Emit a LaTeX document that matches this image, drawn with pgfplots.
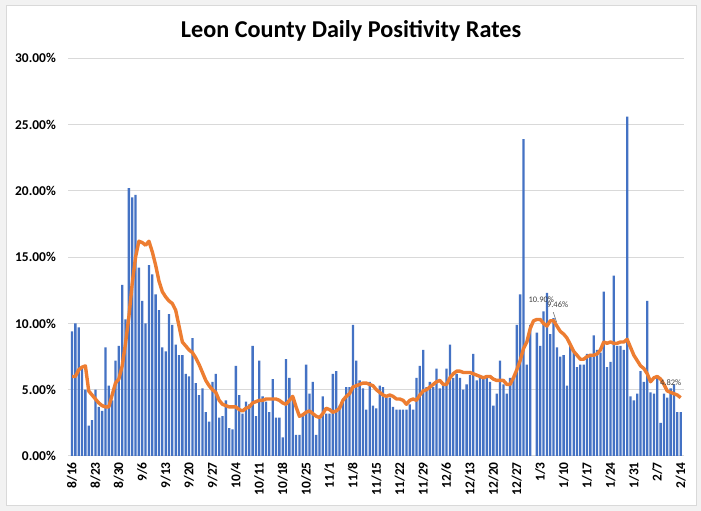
\documentclass[border=0pt]{standalone}
\usepackage{fontspec}
\setmainfont{Carlito}
\usepackage{pgfplots}
\pgfplotsset{compat=1.18}
\definecolor{barblue}{HTML}{4472C4}
\definecolor{lineorange}{HTML}{ED7D31}
\definecolor{gridgray}{HTML}{D9D9D9}
\definecolor{labgray}{HTML}{404040}
\definecolor{bggray}{HTML}{F2F2F2}
\begin{document}
\begin{tikzpicture}[x=1bp,y=1bp]
\fill[bggray] (0,0) rectangle (701,511);
\filldraw[fill=white, draw=gridgray, line width=1bp] (6,5) rectangle (696,505);
\node[font=\fontsize{24.3}{28}\selectfont\bfseries, anchor=base] at (351,473) {Leon County Daily Positivity Rates};
\begin{axis}[
  at={(68bp,55bp)}, anchor=south west,
  scale only axis, width=616bp, height=397.7bp,
  xmin=-1.2, xmax=183, ymin=0, ymax=30,
  axis line style={draw=none},
  ytick={0,5,...,30},
  ymajorgrids, grid style={gridgray, line width=1bp},
  major tick length=0pt,
  xtick={0,7,...,182},
  xticklabels={8/16,8/23,8/30,9/6,9/13,9/20,9/27,10/4,10/11,10/18,10/25,11/1,11/8,11/15,11/22,11/29,12/6,12/13,12/20,12/27,1/3,1/10,1/17,1/24,1/31,2/7,2/14},
  tick label style={font=\fontsize{13.5}{16}\selectfont\bfseries, inner sep=0pt},
  xticklabel style={rotate=90, anchor=east},
  xticklabel shift=6bp,
  yticklabel shift=12bp,
  yticklabel={\pgfmathprintnumber[fixed,fixed zerofill,precision=2]{\tick}\%},
  /pgf/number format/assume math mode=true,
]
\addplot[ybar, bar shift=0pt, bar width=2.3bp, fill=barblue, draw=none] coordinates {
(0,9.4)(1,10.0)(2,9.7)(3,6.6)(4,5.0)(5,2.3)(6,2.7)(7,5.0)(8,3.7)(9,3.4)
(10,8.2)(11,5.3)(12,4.2)(13,7.2)(14,8.3)(15,12.9)(16,10.3)(17,20.2)(18,19.5)(19,19.7)
(20,14.2)(21,11.7)(22,10.0)(23,14.4)(24,13.7)(25,12.2)(26,11.0)(27,8.2)(28,7.9)(29,10.7)
(30,9.9)(31,8.4)(32,7.6)(33,7.6)(34,6.2)(35,6.0)(36,8.9)(37,5.5)(38,4.6)(39,5.1)
(40,3.3)(41,2.6)(42,5.6)(43,6.2)(44,2.9)(45,3.0)(46,4.2)(47,2.1)(48,2.0)(49,6.8)
(50,4.6)(51,3.2)(52,4.1)(53,3.9)(54,8.3)(55,3.0)(56,7.2)(57,4.5)(58,4.1)(59,3.3)
(60,5.8)(61,2.9)(62,2.9)(63,1.4)(64,7.3)(65,5.9)(66,4.3)(67,1.6)(68,1.6)(69,3.0)
(70,6.9)(71,4.7)(72,5.6)(73,1.6)(74,2.8)(75,4.5)(76,3.2)(77,3.2)(78,6.2)(79,6.4)
(80,3.8)(81,4.2)(82,5.2)(83,5.2)(84,9.9)(85,7.2)(86,5.7)(87,5.1)(88,3.5)(89,5.6)
(90,3.8)(91,3.6)(92,5.3)(93,5.2)(94,4.4)(95,4.4)(96,3.7)(97,3.5)(98,3.5)(99,3.5)
(100,3.5)(101,3.9)(102,3.5)(103,5.9)(104,6.8)(105,8.0)(106,5.2)(107,5.6)(108,5.2)(109,6.6)
(110,5.1)(111,5.3)(112,6.6)(113,8.4)(114,5.9)(115,6.2)(116,5.9)(117,5.0)(118,5.4)(119,6.1)
(120,7.7)(121,5.7)(122,5.9)(123,5.8)(124,5.9)(125,5.6)(126,3.8)(127,4.7)(128,7.2)(129,5.4)
(130,4.7)(131,5.9)(132,5.9)(133,9.9)(134,12.2)(135,23.9)(136,6.9)(137,9.9)(139,9.3)
(140,8.3)(141,10.9)(142,12.3)(143,9.2)(144,10.4)(145,8.2)(146,7.5)(147,7.6)(148,5.3)(149,8.3)
(150,7.8)(151,6.7)(152,6.9)(153,6.9)(154,7.7)(155,7.7)(156,9.1)(157,8.0)(158,7.8)(159,12.4)
(160,6.7)(161,7.1)(162,13.6)(163,8.3)(164,8.3)(165,8.0)(166,25.6)(167,4.5)(168,4.2)(169,4.7)
(170,6.4)(171,5.6)(172,11.7)(173,4.8)(174,4.7)(175,5.9)(176,2.5)(177,4.7)(178,4.4)(179,5.1)
(180,5.4)(181,3.3)(182,3.3)
};
\addplot[lineorange, line width=3.4bp, line join=round, no markers] coordinates {
(0,6.0)(1,6.0)(2,6.5)(3,6.7)(4,6.8)(5,4.9)(6,4.6)(7,4.3)(8,4.0)(9,3.8)
(10,3.7)(11,3.7)(12,4.6)(13,5.5)(14,5.8)(15,6.8)(16,8.5)(17,10.5)(18,13.0)(19,15.0)
(20,16.2)(21,16.1)(22,15.9)(23,16.2)(24,15.4)(25,14.4)(26,13.2)(27,12.4)(28,12.0)(29,11.7)
(30,11.5)(31,11.0)(32,9.8)(33,8.6)(34,8.3)(35,8.0)(36,7.8)(37,7.4)(38,6.9)(39,6.3)
(40,5.7)(41,5.3)(42,5.0)(43,4.8)(44,4.2)(45,3.9)(46,3.8)(47,3.7)(48,3.7)(49,3.7)
(50,3.5)(51,3.4)(52,3.6)(53,3.7)(54,4.0)(55,4.1)(56,4.2)(57,4.2)(58,4.3)(59,4.3)
(60,4.3)(61,4.3)(62,4.2)(63,4.0)(64,3.9)(65,4.2)(66,4.5)(67,3.7)(68,3.0)(69,3.1)
(70,3.3)(71,3.4)(72,3.2)(73,3.0)(74,2.9)(75,3.2)(76,3.6)(77,3.5)(78,3.3)(79,3.4)
(80,3.6)(81,4.2)(82,4.5)(83,4.7)(84,5.2)(85,5.3)(86,5.4)(87,5.5)(88,5.5)(89,5.4)
(90,5.3)(91,5.0)(92,4.8)(93,4.6)(94,4.5)(95,4.6)(96,4.5)(97,4.3)(98,4.3)(99,4.2)
(100,3.9)(101,4.2)(102,4.3)(103,4.2)(104,4.6)(105,4.9)(106,5.0)(107,5.2)(108,5.4)(109,5.6)
(110,5.7)(111,5.4)(112,5.4)(113,5.9)(114,6.2)(115,6.4)(116,6.4)(117,6.3)(118,6.3)(119,6.3)
(120,6.2)(121,6.1)(122,6.0)(123,5.9)(124,6.0)(125,6.0)(126,5.8)(127,5.7)(128,5.7)(129,5.7)
(130,5.4)(131,5.4)(132,5.9)(133,6.5)(134,7.2)(135,8.1)(136,8.6)(137,9.6)(138,10.2)(139,10.3)
(140,10.3)(141,10.0)(142,9.8)(143,10.2)(144,10.2)(145,9.8)(146,9.4)(147,9.2)(148,8.9)(149,8.4)
(150,7.9)(151,7.6)(152,7.3)(153,7.3)(154,7.5)(155,7.6)(156,7.6)(157,7.7)(158,8.0)(159,8.6)
(160,8.5)(161,8.6)(162,8.5)(163,8.5)(164,8.6)(165,8.6)(166,8.8)(167,8.2)(168,7.6)(169,7.2)
(170,6.8)(171,6.6)(172,6.2)(173,5.6)(174,5.9)(175,6.0)(176,5.8)(177,5.4)(178,4.9)(179,4.8)
(180,4.7)(181,4.6)(182,4.4)
};
\draw[labgray!70, line width=0.6bp] (axis cs:143.9,10.85) -- (axis cs:144.9,10.1);
\node[font=\fontsize{8.5}{10}\selectfont, text=labgray] at (axis cs:140.3,11.78) {10.90\%};
\node[font=\fontsize{8.5}{10}\selectfont, text=labgray] at (axis cs:145.2,11.42) {9.46\%};
\node[font=\fontsize{8.5}{10}\selectfont, text=labgray] at (axis cs:179,5.51) {4.82\%};
\end{axis}
\end{tikzpicture}
\end{document}
